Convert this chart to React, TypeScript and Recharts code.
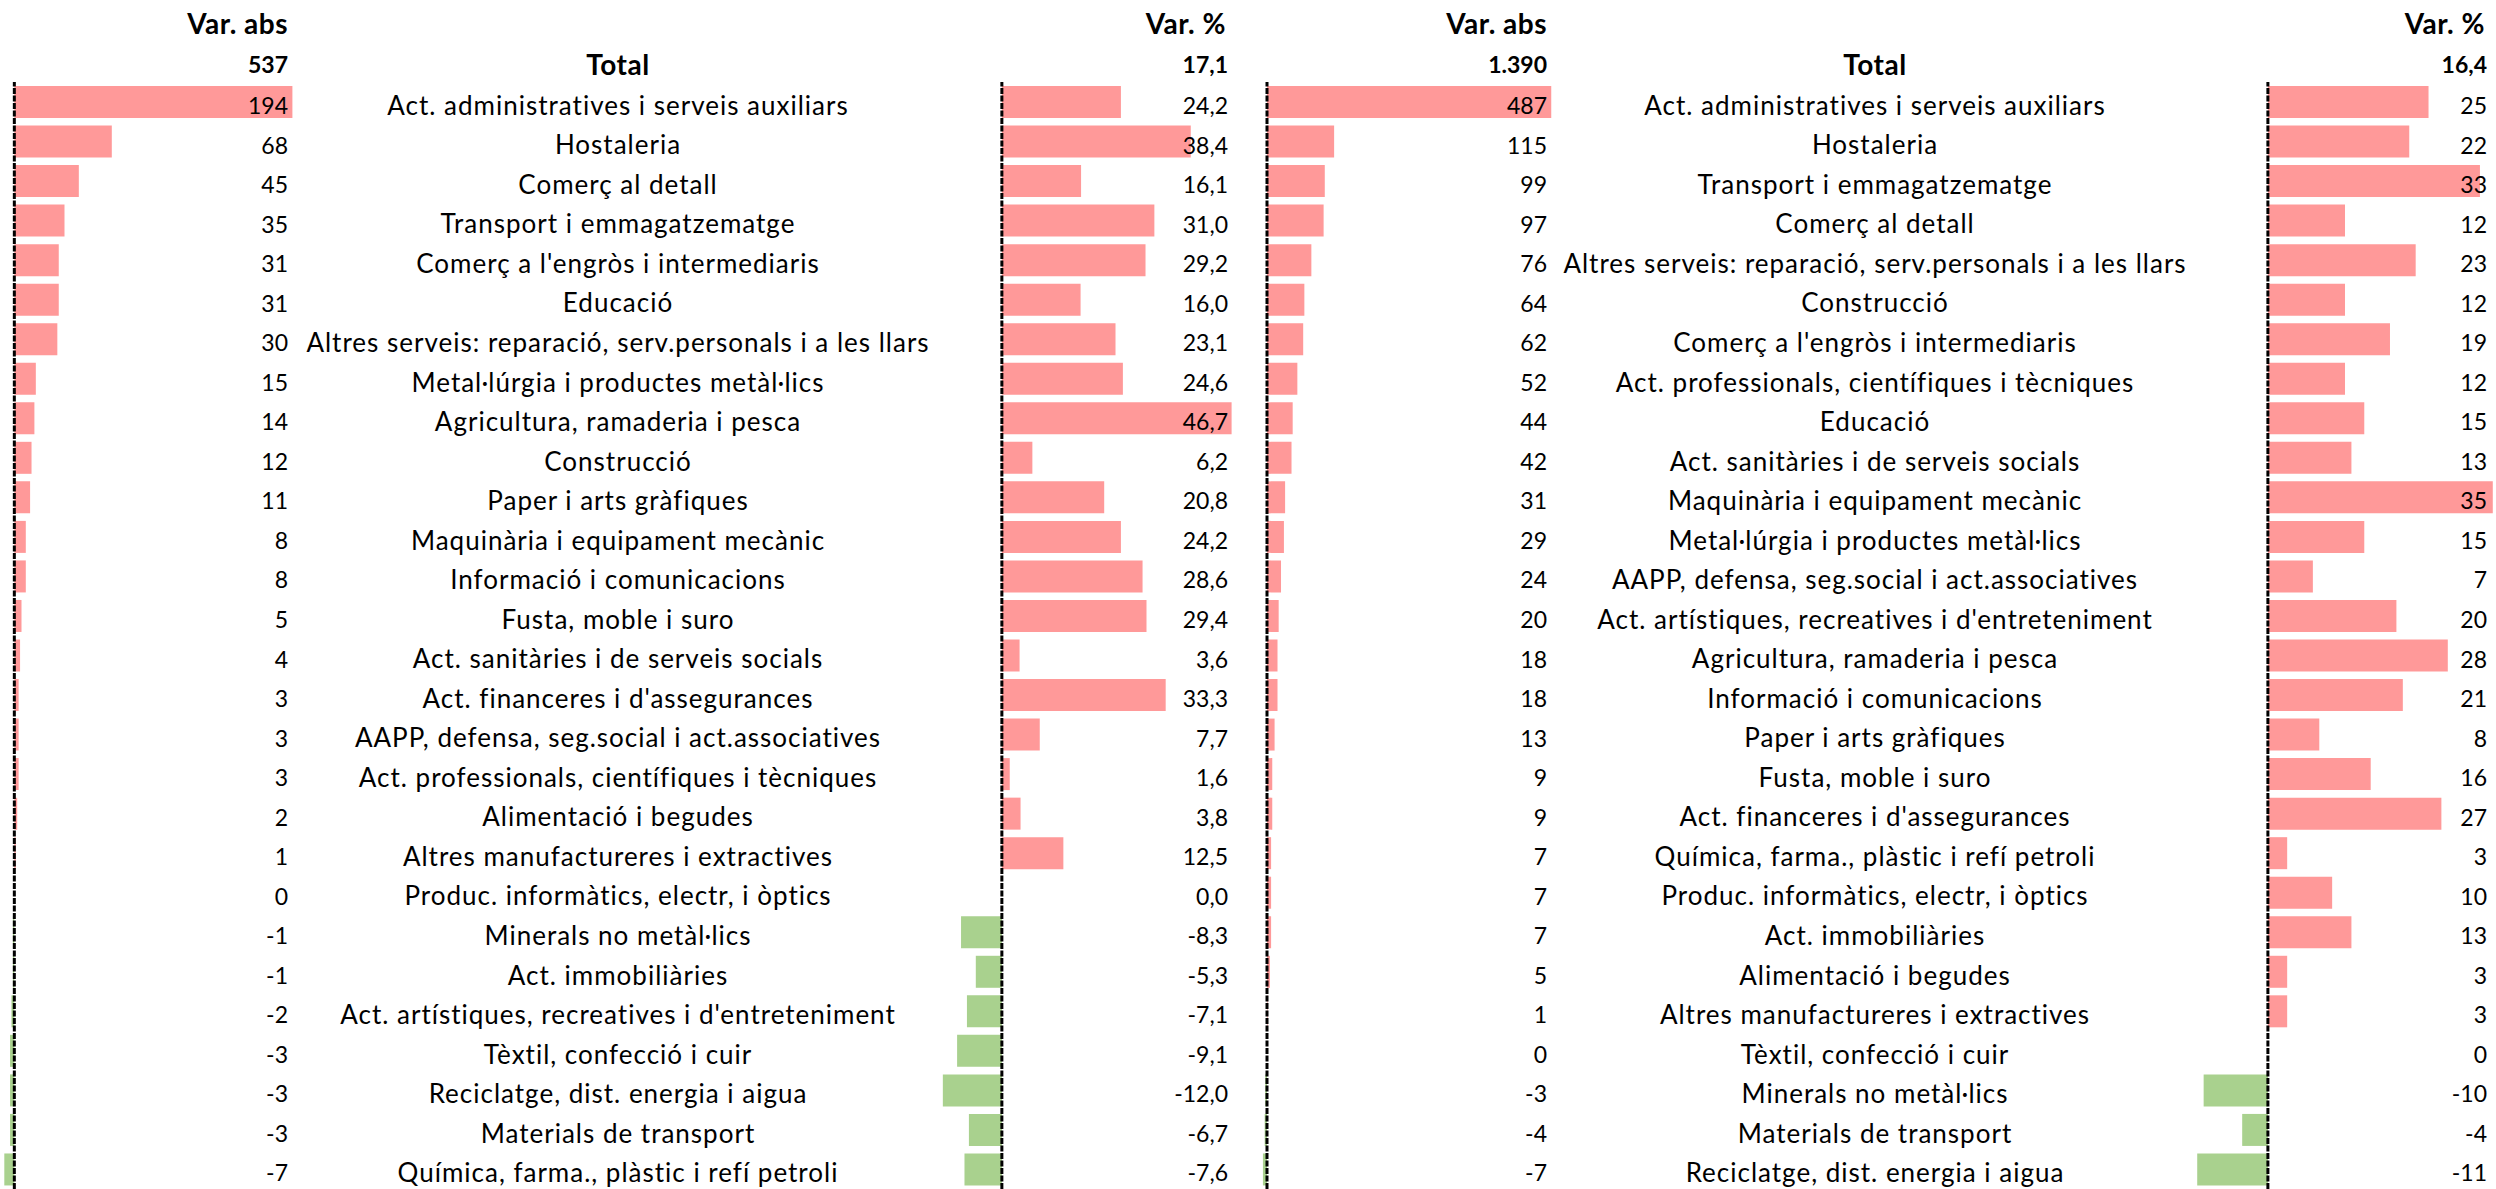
import React from 'react';
import { BarChart, Bar, XAxis, YAxis, Cell, LabelList, ReferenceLine } from 'recharts';

// left block (first period)
const leftCategories = [
  'Act. administratives i serveis auxiliars',
  'Hostaleria',
  'Comerç al detall',
  'Transport i emmagatzematge',
  "Comerç a l'engròs i intermediaris",
  'Educació',
  'Altres serveis: reparació, serv.personals i a les llars',
  'Metal·lúrgia i productes metàl·lics',
  'Agricultura, ramaderia i pesca',
  'Construcció',
  'Paper i arts gràfiques',
  'Maquinària i equipament mecànic',
  'Informació i comunicacions',
  'Fusta, moble i suro',
  'Act. sanitàries i de serveis socials',
  "Act. financeres i d'assegurances",
  'AAPP, defensa, seg.social i act.associatives',
  'Act. professionals, científiques i tècniques',
  'Alimentació i begudes',
  'Altres manufactureres i extractives',
  'Produc. informàtics, electr, i òptics',
  'Minerals no metàl·lics',
  'Act. immobiliàries',
  "Act. artístiques, recreatives i d'entreteniment",
  'Tèxtil, confecció i cuir',
  'Reciclatge, dist. energia i aigua',
  'Materials de transport',
  'Química, farma., plàstic i refí petroli',
];
const leftAbs = [194, 68, 45, 35, 31, 31, 30, 15, 14, 12, 11, 8, 8, 5, 4, 3, 3, 3, 2, 1, 0, -1, -1, -2, -3, -3, -3, -7];
const leftPct = [24.2, 38.4, 16.1, 31.0, 29.2, 16.0, 23.1, 24.6, 46.7, 6.2, 20.8, 24.2, 28.6, 29.4, 3.6, 33.3, 7.7, 1.6, 3.8, 12.5, 0.0, -8.3, -5.3, -7.1, -9.1, -12.0, -6.7, -7.6];
const leftTotalAbs = 537;
const leftTotalPct = 17.1;

// right block (second period)
const rightCategories = [
  'Act. administratives i serveis auxiliars',
  'Hostaleria',
  'Transport i emmagatzematge',
  'Comerç al detall',
  'Altres serveis: reparació, serv.personals i a les llars',
  'Construcció',
  "Comerç a l'engròs i intermediaris",
  'Act. professionals, científiques i tècniques',
  'Educació',
  'Act. sanitàries i de serveis socials',
  'Maquinària i equipament mecànic',
  'Metal·lúrgia i productes metàl·lics',
  'AAPP, defensa, seg.social i act.associatives',
  "Act. artístiques, recreatives i d'entreteniment",
  'Agricultura, ramaderia i pesca',
  'Informació i comunicacions',
  'Paper i arts gràfiques',
  'Fusta, moble i suro',
  "Act. financeres i d'assegurances",
  'Química, farma., plàstic i refí petroli',
  'Produc. informàtics, electr, i òptics',
  'Act. immobiliàries',
  'Alimentació i begudes',
  'Altres manufactureres i extractives',
  'Tèxtil, confecció i cuir',
  'Minerals no metàl·lics',
  'Materials de transport',
  'Reciclatge, dist. energia i aigua',
];
const rightAbs = [487, 115, 99, 97, 76, 64, 62, 52, 44, 42, 31, 29, 24, 20, 18, 18, 13, 9, 9, 7, 7, 7, 5, 1, 0, -3, -4, -7];
const rightPct = [25, 22, 33, 12, 23, 12, 19, 12, 15, 13, 35, 15, 7, 20, 28, 21, 8, 16, 27, 3, 10, 13, 3, 3, 0, -10, -4, -11];
const rightTotalAbs = 1390;
const rightTotalPct = 16.4;

const POS = '#FF9999';
const NEG = '#A9D18E';
const FONT = 'Lato, Carlito, Calibri, sans-serif';
const FS_NUM = 23;
const FS_CAT = 26;
const CHART_H = 1189;
const TOP = 82;

const fmtAbs = (v: number) => String(v).replace(/\B(?=(\d{3})+(?!\d))/g, '.');
const fmtPct1 = (v: number) => v.toFixed(1).replace('.', ',');
const fmtPct0 = (v: number) => v.toFixed(0);

type PanelProps = {
  categories: string[];
  values: number[];
  left: number;
  width: number;
  axisWidth: number;
  domain: [number, number];
  labelRight: number;
  catCenter?: number;
  format: (v: number) => string;
};

const Panel: React.FC<PanelProps> = ({ categories, values, left, width, axisWidth, domain, labelRight, catCenter, format }) => {
  const data = categories.map((name, i) => ({ name, value: values[i] }));

  return (
    <div style={{ position: 'absolute', left, top: 0 }}>
      <BarChart
        layout="vertical"
        width={width}
        height={CHART_H}
        data={data}
        margin={{ top: TOP, right: 0, bottom: 0, left: 0 }}
        barSize={32}
      >
        <XAxis type="number" dataKey="value" domain={domain} allowDataOverflow hide />
        <YAxis
          type="category"
          dataKey="name"
          width={axisWidth}
          hide={catCenter === undefined}
          axisLine={false}
          tickLine={false}
          interval={0}
          tick={(p: any) => (
            <text
              x={(catCenter ?? 0) - left}
              y={p.y + 3}
              textAnchor="middle"
              dominantBaseline="central"
              fontFamily={FONT}
              fontSize={FS_CAT}
              letterSpacing={1}
              fill="#000"
            >
              {p.payload.value}
            </text>
          )}
        />
        <Bar dataKey="value" isAnimationActive={false} minPointSize={(v: number) => (v === 0 ? 0.05 : 0)}>
          {data.map((d, i) => (
            <Cell key={i} fill={d.value < 0 ? NEG : POS} />
          ))}
          <LabelList
            dataKey="value"
            content={(p: any) => (
              <text
                x={labelRight - left}
                y={Number(p.y) + Number(p.height) / 2 + 3}
                textAnchor="end"
                dominantBaseline="central"
                fontFamily={FONT}
                fontSize={FS_NUM}
                fill="#000"
              >
                {format(Number(p.value))}
              </text>
            )}
          />
        </Bar>
        <ReferenceLine x={0} stroke="#000" strokeWidth={3} strokeDasharray="6 1.5" ifOverflow="visible" />
      </BarChart>
    </div>
  );
};

export default function App() {
  const num = { fontFamily: FONT, fontSize: FS_NUM, fontWeight: 700, fill: '#000' } as const;
  const word = { fontFamily: FONT, fontSize: 28, fontWeight: 700, fill: '#000', letterSpacing: 0.5 } as const;
  return (
    <div style={{ position: 'absolute', left: 0, top: 0, width: 2496, height: 1189, overflow: 'hidden', background: '#fff' }}>
      <Panel categories={leftCategories} values={leftAbs} left={0} width={301} axisWidth={0}
        domain={[-10, 200]} labelRight={288} format={fmtAbs} />
      <Panel categories={leftCategories} values={leftPct} left={300} width={938} axisWidth={633}
        domain={[-14, 48]} labelRight={1228} catCenter={618} format={fmtPct1} />
      <Panel categories={rightCategories} values={rightAbs} left={1260} width={300} axisWidth={0}
        domain={[-12, 502]} labelRight={1547} format={fmtAbs} />
      <Panel categories={rightCategories} values={rightPct} left={1558} width={938} axisWidth={636}
        domain={[-11.5, 35.5]} labelRight={2487} catCenter={1875} format={fmtPct0} />

      <svg width={2496} height={1189} style={{ position: 'absolute', left: 0, top: 0, pointerEvents: 'none' }}>
        <text x={288} y={23} textAnchor="end" dominantBaseline="central" {...word}>Var. abs</text>
        <text x={288} y={64} textAnchor="end" dominantBaseline="central" {...num}>{fmtAbs(leftTotalAbs)}</text>
        <text x={618} y={64} textAnchor="middle" dominantBaseline="central" {...word}>Total</text>
        <text x={1226} y={23} textAnchor="end" dominantBaseline="central" {...word}>Var. %</text>
        <text x={1228} y={64} textAnchor="end" dominantBaseline="central" {...num}>{fmtPct1(leftTotalPct)}</text>

        <text x={1547} y={23} textAnchor="end" dominantBaseline="central" {...word}>Var. abs</text>
        <text x={1547} y={64} textAnchor="end" dominantBaseline="central" {...num}>{fmtAbs(rightTotalAbs)}</text>
        <text x={1875} y={64} textAnchor="middle" dominantBaseline="central" {...word}>Total</text>
        <text x={2485} y={23} textAnchor="end" dominantBaseline="central" {...word}>Var. %</text>
        <text x={2487} y={64} textAnchor="end" dominantBaseline="central" {...num}>{fmtPct1(rightTotalPct)}</text>
      </svg>
    </div>
  );
}
